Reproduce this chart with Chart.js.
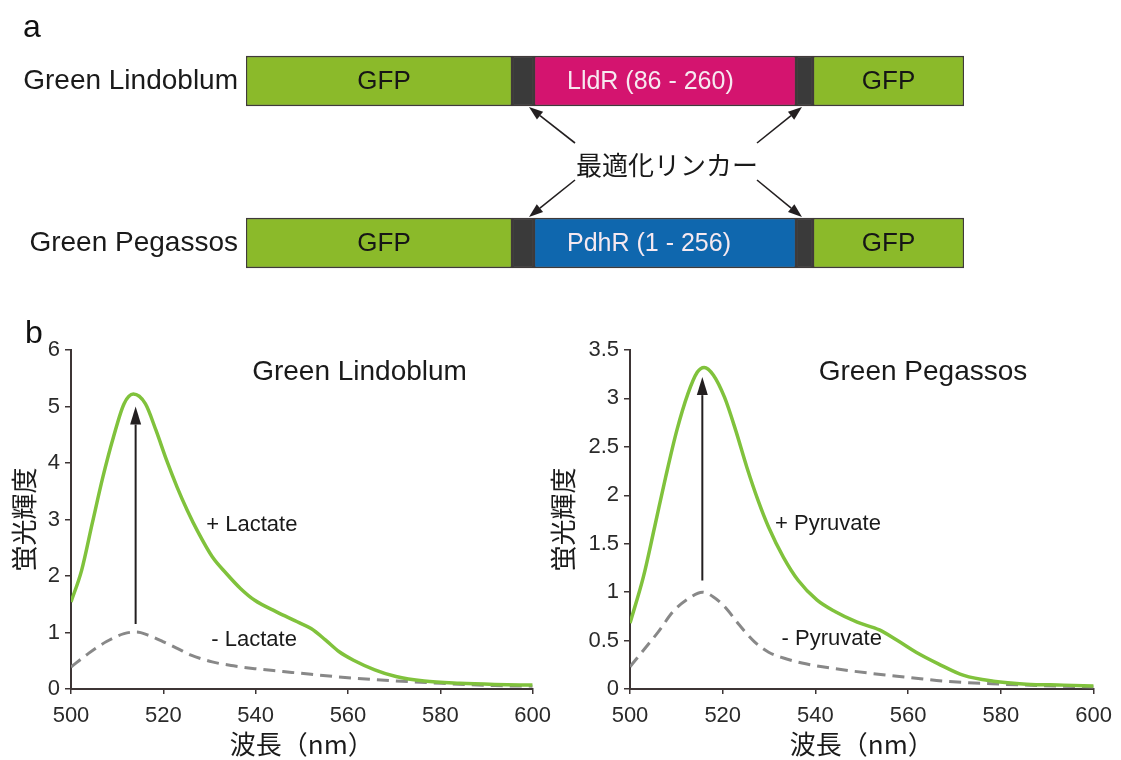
<!DOCTYPE html>
<html><head><meta charset="utf-8">
<script src="https://cdn.jsdelivr.net/npm/chart.js@4.4.1/dist/chart.umd.min.js"></script>
<style>
html,body{margin:0;padding:0;background:#fff;}
body{width:1121px;height:760px;position:relative;overflow:hidden;}
canvas{position:absolute;}
#cA{left:0;top:0;}
#cL{left:0;top:310px;}
#cR{left:540px;top:310px;}
</style></head><body>
<canvas id="cA" width="1121" height="330"></canvas>
<canvas id="cL" width="560" height="450"></canvas>
<canvas id="cR" width="581" height="450"></canvas>
<script>
// ---------- data: panel a (domain lengths, schematic units) ----------
const constructs = ['Green Lindoblum', 'Green Pegassos'];
const gfpN = [266, 266];
const linker1 = [22, 22];
const sensorDomain = [262, 262];
const linker2 = [17, 17];
const gfpC = [151, 151];
const sensorLabels = ['LldR (86 - 260)', 'PdhR (1 - 256)'];
const linkerNote = '最適化リンカー';

// ---------- data: panel b ----------
const wlMin = 500, wlMax = 600, wlStep = 20;
const lindoPlusX = [500, 502.3, 504.6, 506.9, 509.2, 511.5, 513.5, 516.1, 518.4, 520.7, 523, 525.2, 527.5, 530.6, 533.7, 536.7, 539.8, 544.4, 549, 552, 555.1, 558.1, 561.2, 565.8, 570.4, 576.5, 584.2, 591.8, 600];
const lindoPlusY = [1.54, 2.10, 2.93, 3.75, 4.46, 5.05, 5.22, 5.05, 4.58, 4.05, 3.57, 3.16, 2.78, 2.34, 2.04, 1.78, 1.57, 1.37, 1.19, 1.07, 0.87, 0.66, 0.51, 0.34, 0.22, 0.14, 0.10, 0.08, 0.07];
const lindoMinusX = [500, 503.8, 507.7, 511.5, 514.2, 516.8, 519.9, 523, 526, 530.6, 535.2, 539.8, 545.9, 552, 560, 568.9, 580.3, 591.8, 600];
const lindoMinusY = [0.39, 0.63, 0.84, 0.98, 1.01, 0.95, 0.84, 0.72, 0.60, 0.48, 0.41, 0.36, 0.31, 0.26, 0.20, 0.15, 0.10, 0.06, 0.05];
const pegPlusX = [500, 502.9, 505.3, 507.7, 510.1, 512.5, 514.5, 516, 518, 520.4, 522.8, 525.2, 527.6, 529.9, 533.1, 536.3, 540.3, 544.2, 549, 553.8, 557.7, 561.7, 566.5, 572, 578.4, 585.5, 593.5, 600];
const pegPlusY = [0.68, 1.16, 1.67, 2.19, 2.67, 3.05, 3.27, 3.32, 3.24, 3.01, 2.67, 2.29, 1.95, 1.67, 1.36, 1.12, 0.92, 0.80, 0.69, 0.61, 0.50, 0.38, 0.26, 0.14, 0.08, 0.05, 0.04, 0.03];
const pegMinusX = [500, 502.9, 506.1, 509.3, 512.5, 515.6, 518, 520.4, 523.6, 526.8, 529.9, 533.1, 537.9, 544.2, 552.2, 560.1, 568.1, 580, 591.9, 600];
const pegMinusY = [0.23, 0.40, 0.59, 0.80, 0.93, 1.00, 0.95, 0.85, 0.66, 0.49, 0.38, 0.32, 0.26, 0.21, 0.16, 0.12, 0.08, 0.05, 0.03, 0.02];
const lindoArrow = {x: 514, from: 1.15, to: 5.0};
const pegArrow = {x: 515.6, from: 1.12, to: 3.22};

// ---------- styles ----------
const LAT = "'Liberation Sans', Arial, sans-serif";
const CJK = "'Noto Sans CJK JP', sans-serif";
const AX = '#3d3535';
const INK = '#231f20';
const GFP_C = '#8bba2a', LINK_C = '#3a3a3a', LLDR_C = '#d4146f', PDHR_C = '#0f67ae', BORDER = '#3f3a3a';
const LINE_G = '#80c23c', LINE_D = '#888888';

function pts(xs, ys) { return xs.map((x, i) => ({x, y: ys[i]})); }

function arrowHead(ctx, x0, y0, x1, y1, len, half) {
  const a = Math.atan2(y1 - y0, x1 - x0);
  const bx = x1 - len * Math.cos(a), by = y1 - len * Math.sin(a);
  ctx.beginPath();
  ctx.moveTo(x0, y0); ctx.lineTo(bx, by); ctx.stroke();
  ctx.beginPath();
  ctx.moveTo(x1, y1);
  ctx.lineTo(bx + half * Math.sin(a), by - half * Math.cos(a));
  ctx.lineTo(bx - half * Math.sin(a), by + half * Math.cos(a));
  ctx.closePath(); ctx.fill();
}

// ---------- panel a ----------
const schematicPlugin = {
  id: 'schem',
  afterDatasetsDraw(chart, args, opts) {
    const ctx = chart.ctx;
    const xs = chart.scales.x;
    ctx.save();
    ctx.textBaseline = 'middle';
    chart.data.datasets.forEach((ds, di) => {
      const meta = chart.getDatasetMeta(di);
      meta.data.forEach((el, i) => {
        const l = Math.min(el.x, el.base), r = Math.max(el.x, el.base);
        if (ds.label === 'GFP') {
          ctx.font = '26px ' + LAT; ctx.fillStyle = '#161616'; ctx.textAlign = 'center';
          ctx.fillText('GFP', (l + r) / 2 + (di === 0 ? 5 : 0), el.y + 1);
        } else if (ds.label === 'sensor') {
          ctx.font = '25px ' + LAT; ctx.fillStyle = '#f6e9f0'; ctx.textAlign = 'left';
          ctx.fillText(sensorLabels[i], l + 33, el.y + 1);
        }
      });
    });
    const top = chart.getDatasetMeta(0).data[0], bot = chart.getDatasetMeta(0).data[1];
    const yTopEdge = top.y + top.height / 2 + 1, yBotEdge = bot.y - bot.height / 2 - 1;
    const midY = (yTopEdge + yBotEdge) / 2 + 3;
    ctx.font = '26px ' + CJK; ctx.fillStyle = '#1a1a1a'; ctx.textAlign = 'center';
    ctx.fillText(linkerNote, xs.getPixelForValue(opts.noteX), midY);
    ctx.strokeStyle = INK; ctx.fillStyle = INK; ctx.lineWidth = 1.6;
    opts.arrows.forEach(a => {
      const tx = xs.getPixelForValue(a.tail), hx = xs.getPixelForValue(a.tip);
      arrowHead(ctx, tx, midY - 22, hx, yTopEdge, 14, 5);
      arrowHead(ctx, tx, midY + 15, hx, yBotEdge, 14, 5);
    });
    ctx.font = '32px ' + LAT; ctx.fillStyle = '#111'; ctx.textAlign = 'left'; ctx.textBaseline = 'alphabetic';
    ctx.fillText('a', 23, 37);
    ctx.restore();
  }
};

const segStyle = {borderColor: BORDER, borderWidth: 1.5, borderSkipped: false, barThickness: 50};
new Chart(document.getElementById('cA'), {
  type: 'bar',
  data: {
    labels: constructs,
    datasets: [
      Object.assign({label: 'GFP', data: gfpN, backgroundColor: GFP_C}, segStyle),
      Object.assign({label: 'linker', data: linker1, backgroundColor: LINK_C}, segStyle),
      Object.assign({label: 'sensor', data: sensorDomain, backgroundColor: [LLDR_C, PDHR_C]}, segStyle),
      Object.assign({label: 'linker', data: linker2, backgroundColor: LINK_C}, segStyle),
      Object.assign({label: 'GFP', data: gfpC, backgroundColor: GFP_C}, segStyle)
    ]
  },
  options: {
    indexAxis: 'y', responsive: false, animation: false, devicePixelRatio: 1,
    layout: {padding: {left: 0, right: 157, top: 0, bottom: 6}},
    scales: {
      x: {stacked: true, display: false, min: 0, max: 718},
      y: {stacked: true, grid: {display: false, drawTicks: false}, border: {display: false},
          ticks: {font: {family: LAT, size: 28}, color: '#1a1a1a', padding: 8},
          afterFit: s => { s.width = 246; s.paddingTop = 0; s.paddingBottom = 0; }}
    },
    plugins: {legend: {display: false}, tooltip: {enabled: false},
      schem: {noteX: 421, arrows: [{tail: 329, tip: 283}, {tail: 511, tip: 556}]}}
  },
  plugins: [schematicPlugin]
});

// ---------- panel b ----------
const annotPlugin = {
  id: 'annot',
  afterDatasetsDraw(chart, args, opts) {
    const {ctx, scales: {x, y}} = chart;
    ctx.save();
    const a = opts.arrow;
    const px = x.getPixelForValue(a.x), p0 = y.getPixelForValue(a.from), p1 = y.getPixelForValue(a.to);
    ctx.strokeStyle = INK; ctx.fillStyle = INK; ctx.lineWidth = 2;
    arrowHead(ctx, px, p0, px, p1, 18, 5.5);
    ctx.textBaseline = 'middle'; ctx.fillStyle = '#1a1a1a';
    opts.texts.forEach(t => {
      ctx.font = t.size + 'px ' + LAT; ctx.textAlign = t.align;
      ctx.fillText(t.text, x.getPixelForValue(t.x), y.getPixelForValue(t.y));
    });
    if (opts.panel) {
      ctx.font = '32px ' + LAT; ctx.textAlign = 'left'; ctx.textBaseline = 'alphabetic'; ctx.fillStyle = '#111';
      ctx.fillText(opts.panel, 25, 33);
    }
    ctx.restore();
  }
};

function spectrum(canvasId, plusX, plusY, minusX, minusY, yMax, yStep, yWidth, rightPad, titlePad, arrow, texts, panel) {
  return new Chart(document.getElementById(canvasId), {
    type: 'line',
    data: {datasets: [
      {label: 'plus', data: pts(plusX, plusY), borderColor: LINE_G, borderWidth: 3.5, pointRadius: 0, cubicInterpolationMode: 'monotone', fill: false},
      {label: 'minus', data: pts(minusX, minusY), borderColor: LINE_D, borderWidth: 3, borderDash: [12, 7], pointRadius: 0, cubicInterpolationMode: 'monotone', fill: false}
    ]},
    options: {
      responsive: false, animation: false, devicePixelRatio: 1,
      layout: {padding: {left: 0, right: rightPad, top: 40, bottom: 0}},
      scales: {
        x: {type: 'linear', min: wlMin, max: wlMax,
            ticks: {stepSize: wlStep, autoSkip: false, font: {family: LAT, size: 22}, color: '#2a2a2a', padding: 9, maxRotation: 0},
            grid: {display: true, drawOnChartArea: false, drawTicks: true, tickLength: 5, color: AX, lineWidth: 1.5},
            border: {display: true, color: AX, width: 2},
            title: {display: true, text: '波長（nm）', font: {family: CJK, size: 26}, color: '#1a1a1a', padding: {top: 0, bottom: 0}},
            afterFit: s => { s.height = 71; }},
        y: {min: 0, max: yMax,
            ticks: {stepSize: yStep, autoSkip: false, font: {family: LAT, size: 22}, color: '#2a2a2a', padding: 5,
                    callback: v => String(v)},
            grid: {display: true, drawOnChartArea: false, drawTicks: true, tickLength: 6, color: AX, lineWidth: 1.5},
            border: {display: true, color: AX, width: 2},
            title: {display: true, text: '蛍光輝度', font: {family: CJK, size: 26}, color: '#1a1a1a', padding: {top: titlePad, bottom: 0}},
            afterFit: s => { s.width = yWidth; }}
      },
      plugins: {legend: {display: false}, tooltip: {enabled: false},
        annot: {arrow, texts, panel}}
    },
    plugins: [annotPlugin]
  });
}

spectrum('cL', lindoPlusX, lindoPlusY, lindoMinusX, lindoMinusY, 6, 1, 71, 22, 9, lindoArrow, [
  {text: 'Green Lindoblum', x: 562.5, y: 5.61, size: 28, align: 'center'},
  {text: '+ Lactate', x: 529.3, y: 2.9, size: 22, align: 'left'},
  {text: '- Lactate', x: 530.4, y: 0.87, size: 22, align: 'left'}
], 'b');

spectrum('cR', pegPlusX, pegPlusY, pegMinusX, pegMinusY, 3.5, 0.5, 90, 24, 8, pegArrow, [
  {text: 'Green Pegassos', x: 563.2, y: 3.27, size: 28, align: 'center'},
  {text: '+ Pyruvate', x: 531.3, y: 1.70, size: 22, align: 'left'},
  {text: '- Pyruvate', x: 532.7, y: 0.515, size: 22, align: 'left'}
], null);
</script>
</body></html>
